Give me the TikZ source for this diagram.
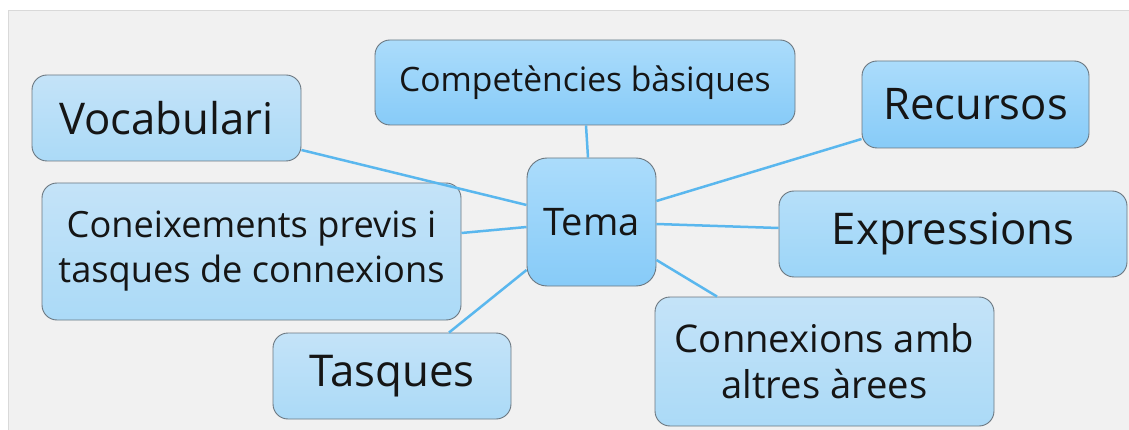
\documentclass[tikz,border=0pt]{standalone}
\usepackage{fontspec}
\setmainfont{Open Sans}
\usetikzlibrary{calc}
\definecolor{panel}{HTML}{F1F1F1}
\definecolor{panelline}{HTML}{D9D9D9}
\definecolor{boxline}{HTML}{6B7780}
\definecolor{conn}{HTML}{5AB7EE}
\definecolor{lightTop}{HTML}{C4E3F8}
\definecolor{lightBot}{HTML}{ABDAF7}
\definecolor{strongTop}{HTML}{ABDCFB}
\definecolor{strongBot}{HTML}{87CBF8}
\definecolor{midTop}{HTML}{B6DFF9}
\definecolor{midBot}{HTML}{9CD5F8}
\definecolor{ink}{HTML}{151515}
\tikzset{
  topic/.style={draw=boxline, line width=0.9pt, rounded corners=15pt, inner sep=0pt,
    align=center, text=ink, shading=axis},
  light/.style={topic, top color=lightTop, bottom color=lightBot},
  strong/.style={topic, top color=strongTop, bottom color=strongBot},
  mid/.style={topic, top color=midTop, bottom color=midBot},
  link/.style={draw=conn, line width=2.5pt},
  fs/.style={font={\fontsize{#1}{#1}\selectfont}},
  fs2/.style 2 args={font={\fontsize{#1}{#2}\selectfont}}
}
\begin{document}
\begin{tikzpicture}[x=1pt,y=-1pt]
\useasboundingbox (0,0) rectangle (1129,430);
\fill[white] (0,0) rectangle (1129,430);
\filldraw[fill=panel, draw=panelline, line width=1pt] (8,11) rectangle (1135,436);

\node[light, fs=43.7, minimum width=269pt, minimum height=86pt] (voc) at (166.5,118) {Vocabulari};
\node[strong, fs=33.6, minimum width=420pt, minimum height=85pt] (comp) at (585,82.5) {Competències bàsiques};
\node[strong, fs=43.6, minimum width=227pt, minimum height=87pt] (rec) at (975.5,104.5) {Recursos};
\node[strong, fs=38, rounded corners=20pt, minimum width=129pt, minimum height=128pt] (tema) at (591.5,222) {Tema};
\node[light, fs2={36.2}{45}, minimum width=419pt, minimum height=137pt] (con) at (251.5,251.5)
  {Coneixements previs i\\tasques de connexions};
\node[mid, fs=43.7, minimum width=348pt, minimum height=86pt] (exp) at (953,234) {Expressions};
\node[light, fs=43.8, minimum width=238pt, minimum height=86pt] (tas) at (392,376) {Tasques};
\node[light, fs2={38.2}{46}, minimum width=339pt, minimum height=129pt] (cxa) at (824.5,361.5)
  {Connexions amb\\altres àrees};

\draw[link] ($(voc.east)+(0,32)$) -- ($(tema.west)+(0,-17)$);
\draw[link] ($(comp.south)+(1,0)$) -- ($(tema.north)+(-3.5,0)$);
\draw[link] ($(rec.west)+(0,34.5)$) -- ($(tema.east)+(0,-21)$);
\draw[link] ($(con.east)+(0,-18.5)$) -- ($(tema.west)+(0,5)$);
\draw[link] ($(exp.west)+(0,-6)$) -- ($(tema.east)+(0,2)$);
\draw[link] ($(tas.north)+(57,0)$) -- ($(tema.west)+(0,48)$);
\draw[link] ($(cxa.north)+(-107.5,0)$) -- ($(tema.east)+(0,38)$);
\end{tikzpicture}
\end{document}
